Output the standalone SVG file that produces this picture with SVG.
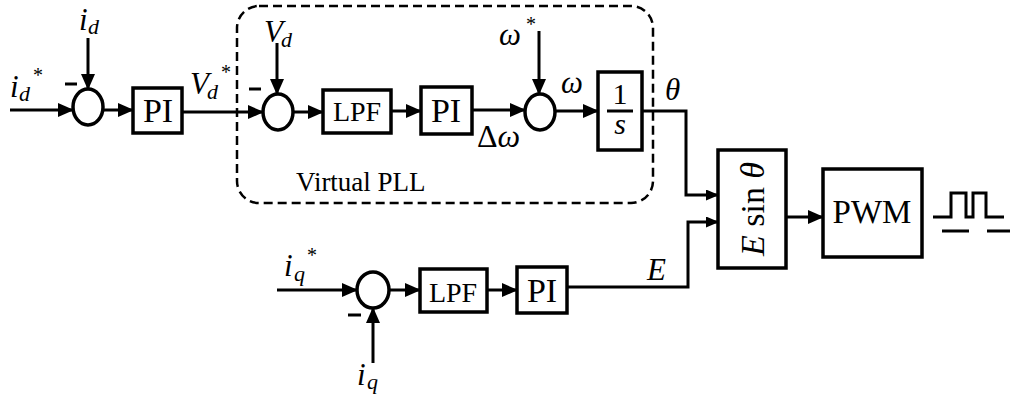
<svg xmlns="http://www.w3.org/2000/svg" width="1010" height="398" viewBox="0 0 1010 398">
<style>
.box{fill:#fff;stroke:#000;stroke-width:3.5}
.sum{fill:#fff;stroke:#000;stroke-width:3.5}
.ln{fill:none;stroke:#000;stroke-width:3}
.ar{fill:none;stroke:#000;stroke-width:3;marker-end:url(#ah)}
.ars{fill:none;stroke:#000;stroke-width:3;marker-end:url(#ahs)}
.dash{fill:none;stroke:#000;stroke-width:2.5;stroke-dasharray:9 5}
.it{font-style:italic}
.lbl{font-size:34px;text-anchor:middle}
.lpf{font-size:28px;text-anchor:middle}
.var{font-size:31px;font-style:italic}
.sub{font-size:22px;font-style:italic}
.star{font-size:20px}
</style>
<defs>
<marker id="ah" markerUnits="userSpaceOnUse" markerWidth="16" markerHeight="14" refX="15" refY="7" orient="auto">
<path d="M0,0 L16,7 L0,14 z" fill="#000"/>
</marker>
<marker id="ahs" markerUnits="userSpaceOnUse" markerWidth="13" markerHeight="11" refX="12" refY="5.5" orient="auto">
<path d="M0,0 L13,5.5 L0,11 z" fill="#000"/>
</marker>
</defs>

<g id="virtual-pll">
<rect x="237" y="6" width="416" height="197" rx="22" ry="22" class="dash"/>
<text x="296" y="191" font-family="Liberation Serif" font-size="27">Virtual PLL</text>
</g>

<g id="connectors">
<line x1="10" y1="110" x2="73" y2="110" class="ar"/>
<line x1="88" y1="38" x2="88" y2="89" class="ar"/>
<line x1="103" y1="110" x2="133" y2="110" class="ar"/>
<line x1="182" y1="112" x2="263" y2="112" class="ar"/>
<line x1="277" y1="43" x2="277" y2="94" class="ar"/>
<line x1="293" y1="112" x2="323" y2="112" class="ar"/>
<line x1="391" y1="111" x2="421" y2="111" class="ar"/>
<line x1="472" y1="110" x2="525" y2="110" class="ar"/>
<line x1="539" y1="31" x2="539" y2="94" class="ar"/>
<line x1="555" y1="111" x2="598" y2="111" class="ar"/>
<polyline points="642,111 686,111 686,195 718,195" class="ars"/>
<line x1="277" y1="290" x2="357" y2="290" class="ar"/>
<line x1="373" y1="363" x2="373" y2="308" class="ar"/>
<line x1="389" y1="290" x2="420" y2="290" class="ar"/>
<line x1="487" y1="290" x2="517" y2="290" class="ar"/>
<polyline points="567,287 688,287 688,222 718,222" class="ars"/>
<line x1="786" y1="217" x2="823" y2="217" class="ar"/>
</g>

<g id="sum-d">
<ellipse cx="88" cy="107" rx="15" ry="18" class="sum"/>
<line x1="65" y1="84" x2="77" y2="84" class="ln"/>
</g>
<g id="label-id">
<text x="79" y="30" class="var" font-family="Liberation Serif">i</text><text x="88" y="34" class="sub" font-family="Liberation Serif">d</text>
</g>
<g id="label-idref">
<text x="10" y="97" class="var" font-family="Liberation Serif">i</text><text x="19" y="101" class="sub" font-family="Liberation Serif">d</text><text x="33" y="82" class="star" font-family="Liberation Serif">*</text>
</g>
<g id="pi-d">
<rect x="133" y="88" width="49" height="45" class="box"/>
<text x="158" y="122" class="lbl" font-family="Liberation Serif">PI</text>
</g>
<g id="label-vdref">
<text x="190" y="94" class="var" font-family="Liberation Serif">V</text><text x="207" y="99" class="sub" font-family="Liberation Serif">d</text><text x="221" y="79" class="star" font-family="Liberation Serif">*</text>
</g>

<g id="sum-v">
<ellipse cx="278" cy="112" rx="15" ry="18" class="sum"/>
<line x1="249" y1="89" x2="261" y2="89" class="ln"/>
</g>
<g id="label-vd">
<text x="264" y="42" class="var" font-family="Liberation Serif">V</text><text x="281" y="47" class="sub" font-family="Liberation Serif">d</text>
</g>
<g id="lpf-v">
<rect x="323" y="90" width="68" height="43" class="box"/>
<text x="357" y="121" class="lpf" font-family="Liberation Serif">LPF</text>
</g>
<g id="pi-v">
<rect x="421" y="87" width="51" height="47" class="box"/>
<text x="446" y="122" class="lbl" font-family="Liberation Serif">PI</text>
</g>
<g id="label-dw">
<text x="477" y="147" font-family="Liberation Serif" font-size="32">Δ<tspan class="it">ω</tspan></text>
</g>
<g id="sum-w">
<ellipse cx="540" cy="112" rx="15" ry="18" class="sum"/>
</g>
<g id="label-wref">
<text x="499" y="45" class="var" font-family="Liberation Serif">ω</text><text x="526" y="31" class="star" font-family="Liberation Serif">*</text>
</g>
<g id="label-w">
<text x="561" y="93" class="var" font-family="Liberation Serif">ω</text>
</g>
<g id="integrator">
<rect x="598" y="72" width="44" height="78" class="box"/>
<text x="620" y="104" font-family="Liberation Serif" font-size="30" text-anchor="middle">1</text>
<line x1="607" y1="111" x2="633" y2="111" class="ln"/>
<text x="620" y="134" font-family="Liberation Serif" font-size="30" font-style="italic" text-anchor="middle">s</text>
</g>
<g id="label-theta">
<text x="665" y="100" class="var" font-family="Liberation Serif">θ</text>
</g>

<g id="label-iqref">
<text x="284" y="276" class="var" font-family="Liberation Serif">i</text><text x="294" y="281" class="sub" font-family="Liberation Serif">q</text><text x="307" y="262" class="star" font-family="Liberation Serif">*</text>
</g>
<g id="sum-q">
<ellipse cx="373" cy="290" rx="16" ry="18" class="sum"/>
<line x1="348" y1="315" x2="361" y2="315" class="ln"/>
</g>
<g id="label-iq">
<text x="357" y="385" class="var" font-family="Liberation Serif">i</text><text x="367" y="389" class="sub" font-family="Liberation Serif">q</text>
</g>
<g id="lpf-q">
<rect x="420" y="269" width="67" height="43" class="box"/>
<text x="453" y="302" class="lpf" font-family="Liberation Serif">LPF</text>
</g>
<g id="pi-q">
<rect x="517" y="267" width="50" height="46" class="box"/>
<text x="542" y="302" class="lbl" font-family="Liberation Serif">PI</text>
</g>
<g id="label-e">
<text x="647" y="280" class="var" font-family="Liberation Serif">E</text>
</g>

<g id="esin">
<rect x="718" y="150" width="68" height="118" class="box"/>
<text transform="translate(764,209) rotate(-90)" x="0" y="0" font-family="Liberation Serif" font-size="34" text-anchor="middle"><tspan class="it">E</tspan> sin <tspan class="it">θ</tspan></text>
</g>
<g id="pwm">
<rect x="823" y="169" width="99" height="88" class="box"/>
<text x="872" y="223" font-family="Liberation Serif" font-size="33" text-anchor="middle">PWM</text>
</g>
<g id="pwm-signal">
<polyline points="933,217 951,217 951,193 966,193 966,217 973,217 973,193 986,193 986,217 1004,217" class="ln"/>
<line x1="942" y1="231" x2="969" y2="231" class="ln"/>
<line x1="987" y1="231" x2="1010" y2="231" class="ln"/>
</g>
</svg>
